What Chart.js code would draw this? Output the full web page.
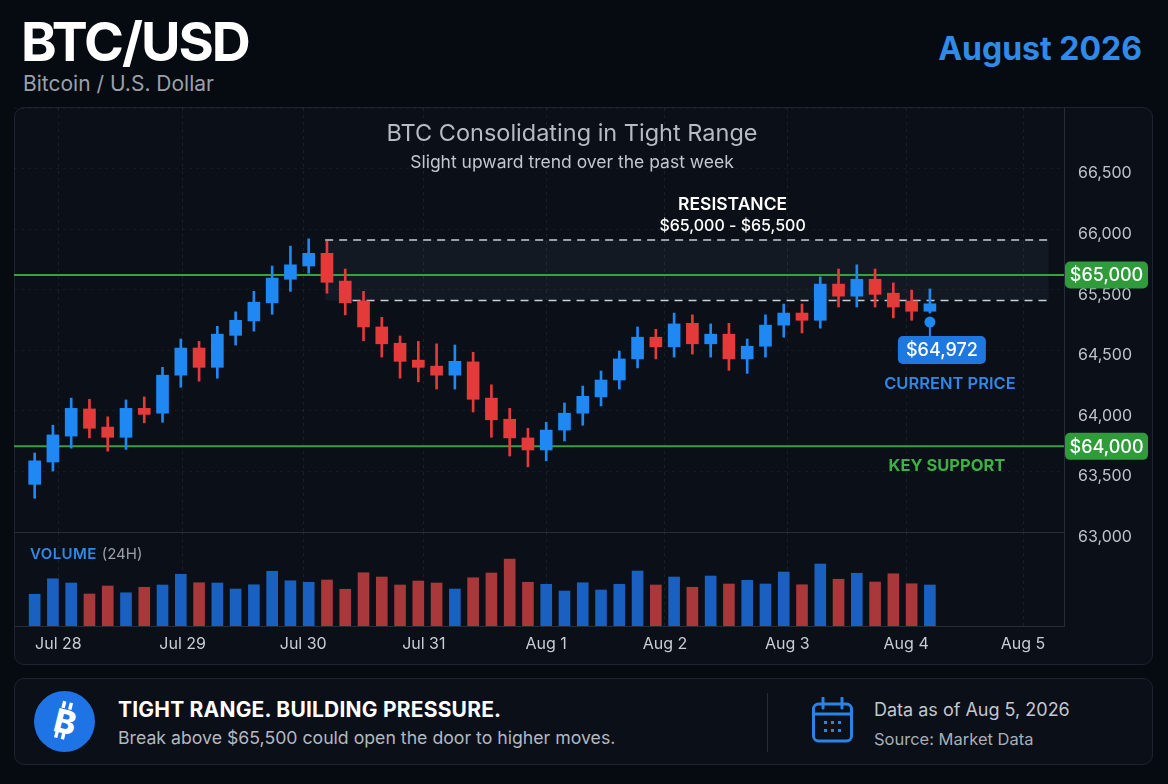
<!DOCTYPE html>
<html>
<head>
<meta charset="utf-8">
<script src="https://cdn.jsdelivr.net/npm/chart.js@4.4.1/dist/chart.umd.min.js"></script>
<style>
  html, body { margin: 0; padding: 0; }
  body { width: 1168px; height: 784px; background: #060a11; font-family: Inter, "Noto Sans", sans-serif; color: #fff; position: relative; overflow: hidden; }
  .abs { position: absolute; white-space: nowrap; }
  #pair { left: 21px; top: 15px; font-size: 54px; font-weight: 700; line-height: 1; letter-spacing: -2px; }
  #pairSub { left: 23px; top: 73px; font-size: 21px; line-height: 1; color: #9ba1aa; }
  #month { right: 26px; top: 33px; font-size: 32px; font-weight: 700; line-height: 1; color: #2f8ae8; }
  .panel { border: 1px solid #1c2430; border-radius: 10px; background: #0a0f18; box-sizing: border-box; }
  #chartTitle { left: 272px; width: 600px; top: 121px; text-align: center; font-size: 23.5px; line-height: 1; color: #b6bbc4; }
  #chartSub { left: 272px; width: 600px; top: 153px; text-align: center; font-size: 17.5px; line-height: 1; color: #c3c7ce; }
  #volLabel { left: 30px; top: 546px; font-size: 15px; line-height: 1; color: #9aa1ab; }
  #volLabel b { color: #2d8ae6; font-weight: 600; letter-spacing: 0.4px; margin-right: 5px; }
  canvas { position: absolute; }
  #msg1 { left: 118px; top: 699px; font-size: 21px; font-weight: 700; line-height: 1; letter-spacing: 0.2px; }
  #msg2 { left: 118px; top: 729px; font-size: 17.7px; line-height: 1; color: #b3b8c1; }
  #asof { left: 874px; top: 701px; font-size: 18px; line-height: 1; color: #c3c7ce; }
  #src { left: 874px; top: 731px; font-size: 16.5px; line-height: 1; color: #a9aeb6; }
</style>
</head>
<body>
<div class="abs" id="pair">BTC/USD</div>
<div class="abs" id="pairSub">Bitcoin / U.S. Dollar</div>
<div class="abs" id="month">August 2026</div>

<div class="abs panel" style="left:14px;top:107px;width:1139px;height:558px;"></div>
<canvas id="priceChart" width="1139" height="452" style="left:14px;top:108px;"></canvas>
<canvas id="volChart" width="1139" height="132" style="left:14px;top:532px;"></canvas>
<div class="abs" id="chartTitle">BTC Consolidating in Tight Range</div>
<div class="abs" id="chartSub">Slight upward trend over the past week</div>
<div class="abs" id="volLabel"><b>VOLUME</b>(24H)</div>

<div class="abs panel" style="left:14px;top:678px;width:1139px;height:87px;"></div>
<svg class="abs" style="left:33px;top:690px" width="63" height="63" viewBox="0 0 64 64">
  <circle cx="32" cy="32" r="31" fill="#1f74e5"/>
  <g transform="rotate(14 32 32)" fill="#fff">
    <text x="33" y="44" text-anchor="middle" font-family="Inter" font-weight="800" font-size="33">B</text>
    <rect x="25.5" y="12" width="3.5" height="7"/><rect x="32.5" y="12" width="3.5" height="7"/>
    <rect x="25.5" y="43" width="3.5" height="7"/><rect x="32.5" y="43" width="3.5" height="7"/>
  </g>
</svg>
<div class="abs" id="msg1">TIGHT RANGE. BUILDING PRESSURE.</div>
<div class="abs" id="msg2">Break above $65,500 could open the door to higher moves.</div>
<div class="abs" style="left:767px;top:693px;width:1px;height:59px;background:#262d38;"></div>
<svg class="abs" style="left:811px;top:697px" width="44" height="47" viewBox="0 0 44 47">
  <g fill="none" stroke="#2a84e4" stroke-width="3">
    <rect x="2.5" y="7" width="38" height="37" rx="5"/>
    <line x1="2.5" y1="17" x2="40.5" y2="17"/>
    <line x1="12" y1="1" x2="12" y2="11" stroke-linecap="round"/>
    <line x1="31" y1="1" x2="31" y2="11" stroke-linecap="round"/>
  </g>
  <g fill="#2a84e4">
    <rect x="13" y="24" width="3" height="3"/><rect x="20" y="24" width="3" height="3"/><rect x="27" y="24" width="3" height="3"/>
    <rect x="13" y="32" width="3" height="3"/><rect x="20" y="32" width="3" height="3"/><rect x="27" y="32" width="3" height="3"/>
  </g>
</svg>
<div class="abs" id="asof">Data as of Aug 5, 2026</div>
<div class="abs" id="src">Source: Market Data</div>

<script>
// ---- data (4h-ish candles, Jul 28 -> Aug 4) ----
const openPx  = [63475, 63660, 63875, 64100, 63950, 63865, 64105, 64065, 64380, 64605, 64445, 64710, 64830, 64980, 65175, 65285, 65390, 65160, 64995, 64780, 64645, 64505, 64455, 64380, 64490, 64190, 64015, 63860, 63760, 63925, 64065, 64200, 64340, 64515, 64695, 64615, 64810, 64640, 64720, 64515, 64620, 64795, 64895, 64835, 65135, 65035, 65175, 65060, 64995, 64910];
const highPx  = [63735, 63965, 64190, 64180, 64035, 64175, 64200, 64445, 64680, 64660, 64785, 64905, 65075, 65285, 65450, 65510, 65490, 65260, 65075, 64860, 64705, 64660, 64640, 64630, 64570, 64300, 64105, 63940, 63990, 64150, 64290, 64415, 64580, 64780, 64760, 64895, 64880, 64805, 64810, 64680, 64880, 64970, 64970, 65195, 65260, 65295, 65260, 65145, 65085, 65095];
const lowPx   = [63360, 63585, 63775, 63860, 63750, 63765, 63985, 63990, 64280, 64330, 64355, 64630, 64745, 64885, 65075, 65225, 65060, 64880, 64665, 64530, 64355, 64325, 64265, 64265, 64075, 63865, 63710, 63620, 63670, 63835, 63965, 64125, 64265, 64440, 64515, 64530, 64555, 64530, 64420, 64395, 64530, 64695, 64730, 64770, 64945, 64945, 64945, 64855, 64835, 64895];
const closePx = [63670, 63885, 64105, 63940, 63865, 64105, 64055, 64380, 64605, 64445, 64720, 64835, 64985, 65185, 65295, 65390, 65150, 64980, 64780, 64640, 64495, 64445, 64380, 64495, 64180, 64010, 63860, 63760, 63925, 64065, 64205, 64340, 64515, 64695, 64615, 64805, 64640, 64720, 64515, 64620, 64795, 64895, 64835, 65135, 65035, 65175, 65050, 64945, 64910, 64972];
const volume  = [1270, 1890, 1720, 1280, 1600, 1330, 1550, 1640, 2070, 1730, 1720, 1480, 1650, 2190, 1810, 1750, 1840, 1470, 2130, 1960, 1640, 1800, 1720, 1480, 1930, 2120, 2680, 1750, 1670, 1400, 1730, 1440, 1670, 2200, 1640, 1960, 1550, 2000, 1680, 1830, 1680, 2160, 1650, 2480, 1870, 2110, 1760, 2090, 1690, 1640];

// day labels sit at these candle positions
const xTickPos    = [1.3, 8.1, 14.7, 21.3, 28, 34.5, 41.2, 47.7, 54.1];
const xTickLabels = ['Jul 28', 'Jul 29', 'Jul 30', 'Jul 31', 'Aug 1', 'Aug 2', 'Aug 3', 'Aug 4', 'Aug 5'];
const yTickLabels = ['', '66,500', '66,000', '65,500', '64,500', '64,000', '63,500', '63,000'];

const resistance  = [65000, 65500];
const levelValues = [65210, 63790];
const levelLabels = ['$65,000', '$64,000'];
const currentPrice = 64972;

const BLUE = '#1f88f2', RED = '#e53a3a';
const VOL_BLUE = '#1a60c0', VOL_RED = '#a9383b';

const up = closePx.map((c, i) => c >= openPx[i]);
const candleColors = up.map(u => u ? BLUE : RED);
const idx = closePx.map((_, i) => i);

const X_MIN = -1.13, X_MAX = 56.34;
const RIGHT_W = 89;
const FONT = 'Inter, "Noto Sans", sans-serif';

function xScale(showTicks) {
    return {
        type: 'linear', min: X_MIN, max: X_MAX, offset: false,
        afterBuildTicks: s => { s.ticks = xTickPos.map(v => ({ value: v })); },
        ticks: {
            display: showTicks, padding: 9, color: '#c9cdd4',
            font: { family: FONT, size: 16 },
            callback: (v, i) => xTickLabels[i]
        },
        grid: { color: 'rgba(255,255,255,0.07)', drawTicks: false, offset: false },
        border: { display: true, color: '#262d38', width: 1, dash: [3, 4] }
    };
}

function fmt(n) { return '$' + n.toLocaleString('en-US'); }

function roundRect(ctx, x, y, w, h, r) {
    ctx.beginPath();
    ctx.moveTo(x + r, y);
    ctx.arcTo(x + w, y, x + w, y + h, r);
    ctx.arcTo(x + w, y + h, x, y + h, r);
    ctx.arcTo(x, y + h, x, y, r);
    ctx.arcTo(x, y, x + w, y, r);
    ctx.closePath();
}

// band, key levels, badges, labels
const overlay = {
    id: 'overlay',
    beforeDatasetsDraw(chart) {
        const { ctx, chartArea: a, scales: { x, y } } = chart;
        const yTop = y.getPixelForValue(resistance[1]);
        const yBot = y.getPixelForValue(resistance[0]);
        const x0 = x.getPixelForValue(15.9), x1 = x.getPixelForValue(55.5);
        ctx.save();
        ctx.fillStyle = 'rgba(148,163,184,0.07)';
        ctx.fillRect(x0, yTop, x1 - x0, yBot - yTop);
        ctx.strokeStyle = '#c9ced6';
        ctx.lineWidth = 1.5;
        ctx.setLineDash([8, 6]);
        ctx.beginPath();
        ctx.moveTo(x0, yTop); ctx.lineTo(x1, yTop);
        ctx.moveTo(x.getPixelForValue(17.4), yBot); ctx.lineTo(x1, yBot);
        ctx.stroke();
        ctx.setLineDash([]);
        ctx.strokeStyle = '#3a9f40';
        ctx.lineWidth = 2;
        levelValues.forEach(v => {
            const py = y.getPixelForValue(v);
            ctx.beginPath(); ctx.moveTo(a.left, py); ctx.lineTo(a.right, py); ctx.stroke();
        });
        ctx.restore();
    },
    afterDatasetsDraw(chart) {
        const { ctx, chartArea: a, scales: { x, y } } = chart;
        ctx.save();
        ctx.textAlign = 'center';
        ctx.textBaseline = 'middle';

        // key level badges on the right axis
        levelValues.forEach((v, i) => {
            const py = y.getPixelForValue(v);
            ctx.fillStyle = '#2f9b3b';
            roundRect(ctx, a.right + 1, py - 13.5, 83, 27, 5);
            ctx.fill();
            ctx.fillStyle = '#ffffff';
            ctx.font = '500 18px ' + FONT;
            ctx.fillText(levelLabels[i], a.right + 42.5, py + 1);
        });

        // resistance label
        const yTop = y.getPixelForValue(resistance[1]);
        const cx = x.getPixelForValue(38.2);
        ctx.fillStyle = '#ffffff';
        ctx.font = '600 17.5px ' + FONT;
        ctx.fillText('RESISTANCE', cx, yTop - 35);
        ctx.font = '500 16px ' + FONT;
        ctx.fillText(fmt(resistance[0]) + ' - ' + fmt(resistance[1]), cx, yTop - 14);

        // current price marker
        const last = closePx.length - 1;
        const lx = x.getPixelForValue(last);
        const dotY = y.getPixelForValue(lowPx[last]) + 9;
        ctx.strokeStyle = '#1f88f2';
        ctx.lineWidth = 2;
        ctx.beginPath(); ctx.moveTo(lx, dotY); ctx.lineTo(lx, dotY + 16); ctx.stroke();
        ctx.fillStyle = '#1f88f2';
        ctx.beginPath(); ctx.arc(lx, dotY, 5.5, 0, Math.PI * 2); ctx.fill();
        ctx.fillStyle = '#1f78e0';
        roundRect(ctx, lx - 32, dotY + 14, 88, 28, 5);
        ctx.fill();
        ctx.fillStyle = '#ffffff';
        ctx.font = '500 18px ' + FONT;
        ctx.fillText(fmt(currentPrice), lx + 12, dotY + 29);
        ctx.fillStyle = '#2f88e8';
        ctx.font = '600 16.5px ' + FONT;
        ctx.fillText('CURRENT PRICE', lx + 20, dotY + 62);

        // support label
        const sy = y.getPixelForValue(levelValues[1]);
        ctx.fillStyle = '#3db244';
        ctx.font = '700 16.5px ' + FONT;
        ctx.fillText('KEY SUPPORT', lx + 17, sy + 20);
        ctx.restore();
    }
};

new Chart(document.getElementById('priceChart'), {
    type: 'bar',
    data: {
        datasets: [
            {
                label: 'Body',
                data: idx.map(i => ({ x: i, y: [openPx[i], closePx[i]] })),
                backgroundColor: candleColors,
                barThickness: 12,
                grouped: false
            },
            {
                label: 'Wick',
                data: idx.map(i => ({ x: i, y: [lowPx[i], highPx[i]] })),
                backgroundColor: candleColors,
                barThickness: 2,
                grouped: false
            }
        ]
    },
    options: {
        responsive: false,
        animation: false,
        layout: { padding: { top: 0, bottom: 28 } },
        plugins: { legend: { display: false }, tooltip: { enabled: false } },
        scales: {
            x: xScale(false),
            y: { type: 'linear', display: false, min: 63080, max: 66595 },
            yLab: {
                type: 'category', position: 'right', labels: yTickLabels, offset: false,
                afterFit: s => { s.width = RIGHT_W; s.paddingTop = 0; s.paddingBottom = 0; },
                ticks: { padding: 14, labelOffset: 5, color: '#bfc3ca', font: { family: FONT, size: 16 }, autoSkip: false },
                grid: { color: 'rgba(255,255,255,0.05)', drawTicks: false },
                border: { display: true, color: '#262d38', dash: [3, 4] }
            }
        }
    },
    plugins: [overlay]
});

new Chart(document.getElementById('volChart'), {
    type: 'bar',
    data: {
        datasets: [{
            label: 'Volume',
            data: idx.map(i => ({ x: i, y: volume[i] })),
            backgroundColor: up.map(u => u ? VOL_BLUE : VOL_RED),
            barThickness: 11
        }]
    },
    options: {
        responsive: false,
        animation: false,
        plugins: { legend: { display: false }, tooltip: { enabled: false } },
        scales: {
            x: Object.assign(xScale(true), { afterFit: s => { s.height = 38; } }),
            y: {
                type: 'linear', position: 'right', min: 0, max: 3760,
                afterFit: s => { s.width = RIGHT_W; },
                ticks: { display: false },
                grid: { display: false, drawTicks: false },
                border: { display: true, color: '#262d38' }
            }
        }
    }
});
</script>
</body>
</html>
